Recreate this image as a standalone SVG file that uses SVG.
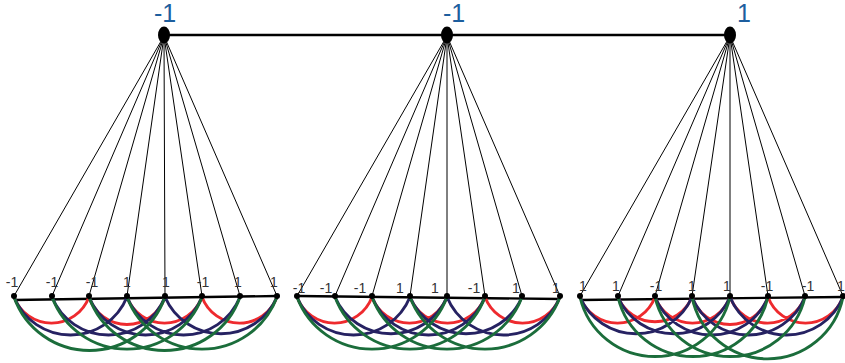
<svg xmlns="http://www.w3.org/2000/svg" width="845" height="363" viewBox="0 0 845 363">
<style>
.bg{fill:#fff}
.top{fill:#000}
.tl{font-family:"Liberation Sans",Arial,sans-serif;font-size:25px;fill:#1d5e9e}
.bl{font-family:"Liberation Sans",Arial,sans-serif;font-size:14px;fill:#333;text-anchor:middle}
.fan{stroke:#000;stroke-width:1;fill:none}
.base{stroke:#000;stroke-width:2.4;fill:none}
.bar{stroke:#000;stroke-width:2.4;fill:none}
.r{stroke:#ee2a2e;stroke-width:2.9;fill:none}
.n{stroke:#262262;stroke-width:2.9;fill:none}
.g{stroke:#1b6d3b;stroke-width:2.9;fill:none}
.dot{fill:#000}
</style>
<rect class="bg" x="0" y="0" width="845" height="363"/>
<g id="connectors">
<path class="bar" d="M164 35 L730 35"/>
<g id="fans">
<path class="fan" d="M164 36 L14 296 M164 36 L52 296 M164 36 L89 296 M164 36 L127 296 M164 36 L165 296 M164 36 L202 296 M164 36 L240 296 M164 36 L277 296"/>
<path class="fan" d="M447 36 L297 296 M447 36 L335 296 M447 36 L372 296 M447 36 L410 296 M447 36 L447 296 M447 36 L485 296 M447 36 L522 296 M447 36 L560 296"/>
<path class="fan" d="M730 36 L580 296 M730 36 L618 296 M730 36 L655 296 M730 36 L692 296 M730 36 L730 296 M730 36 L768 296 M730 36 L805 296 M730 36 L843 296"/>
</g>
<path class="base" d="M14 300 L277 296"/>
<path class="base" d="M297 296 L560 299"/>
<path class="base" d="M580 300 L843 297"/>
<g id="arcs1">
<path class="r" d="M14 297 A40 40 0 0 0 89 297 M89 297 A40 40 0 0 0 165 297 M127 297 A40 40 0 0 0 202 297 M202 297 A40 40 0 0 0 277 297"/>
<path class="n" d="M14 297 A61 61 0 0 0 127 297 M52 297 A61 61 0 0 0 165 297 M89 297 A61 61 0 0 0 202 297 M127 297 A61 61 0 0 0 240 297 M165 297 A61 61 0 0 0 277 297"/>
<path class="g" d="M14 297 A80 80 0 0 0 165 297 M52 297 A80 80 0 0 0 202 297 M89 297 A80 80 0 0 0 240 297 M127 297 A80 80 0 0 0 277 297"/>
</g>
<g id="arcs2">
<path class="r" d="M297 297 A40 40 0 0 0 372 297 M372 297 A40 40 0 0 0 447 297 M410 297 A40 40 0 0 0 485 297 M485 297 A40 40 0 0 0 560 297"/>
<path class="n" d="M297 297 A61 61 0 0 0 410 297 M335 297 A61 61 0 0 0 447 297 M372 297 A61 61 0 0 0 485 297 M410 297 A61 61 0 0 0 522 297 M447 297 A61 61 0 0 0 560 297"/>
<path class="g" d="M297 297 A80 80 0 0 0 447 297 M335 297 A80 80 0 0 0 485 297 M372 297 A80 80 0 0 0 522 297 M410 297 A80 80 0 0 0 560 297"/>
</g>
<g id="arcs3">
<path class="r" d="M580 297 A40 40 0 0 0 655 297 M618 297 A40 40 0 0 0 692 297 M655 297 A40 40 0 0 0 730 297 M692 297 A40 40 0 0 0 768 297 M730 297 A40 40 0 0 0 805 297 M768 297 A40 40 0 0 0 843 297"/>
<path class="n" d="M580 297 A61 61 0 0 0 692 297 M618 297 A61 61 0 0 0 730 297 M655 297 A61 61 0 0 0 768 297 M692 297 A61 61 0 0 0 805 297 M730 297 A61 61 0 0 0 843 297"/>
<path class="g" d="M580 297 A77 77 0 0 0 730 297 M618 297 A77 77 0 0 0 768 297 M655 297 A77 77 0 0 0 805 297 M692 297 A77 77 0 0 0 843 297"/>
</g>
</g>
<g id="top1"><ellipse class="top" cx="164" cy="35" rx="6" ry="8.5"/><text class="tl" x="154" y="22">-1</text></g>
<g id="top2"><ellipse class="top" cx="447" cy="35" rx="6" ry="8.5"/><text class="tl" x="443" y="22">-1</text></g>
<g id="top3"><ellipse class="top" cx="730" cy="35" rx="6" ry="8.5"/><text class="tl" x="737" y="22">1</text></g>
<g id="p1n0"><circle class="dot" cx="14" cy="296" r="3"/><text class="bl" x="12" y="287">-1</text></g>
<g id="p1n1"><circle class="dot" cx="52" cy="296" r="3"/><text class="bl" x="52" y="287">-1</text></g>
<g id="p1n2"><circle class="dot" cx="89" cy="296" r="3"/><text class="bl" x="92" y="287">-1</text></g>
<g id="p1n3"><circle class="dot" cx="127" cy="296" r="3"/><text class="bl" x="127" y="287">1</text></g>
<g id="p1n4"><circle class="dot" cx="165" cy="296" r="3"/><text class="bl" x="166" y="287">1</text></g>
<g id="p1n5"><circle class="dot" cx="202" cy="296" r="3"/><text class="bl" x="203" y="287">-1</text></g>
<g id="p1n6"><circle class="dot" cx="240" cy="296" r="3"/><text class="bl" x="238" y="287">1</text></g>
<g id="p1n7"><circle class="dot" cx="277" cy="296" r="3"/><text class="bl" x="274" y="287">1</text></g>
<g id="p2n0"><circle class="dot" cx="297" cy="296" r="3"/><text class="bl" x="299" y="293">-1</text></g>
<g id="p2n1"><circle class="dot" cx="335" cy="296" r="3"/><text class="bl" x="326" y="293">-1</text></g>
<g id="p2n2"><circle class="dot" cx="372" cy="296" r="3"/><text class="bl" x="360" y="293">-1</text></g>
<g id="p2n3"><circle class="dot" cx="410" cy="296" r="3"/><text class="bl" x="400" y="293">1</text></g>
<g id="p2n4"><circle class="dot" cx="447" cy="296" r="3"/><text class="bl" x="435" y="293">1</text></g>
<g id="p2n5"><circle class="dot" cx="485" cy="296" r="3"/><text class="bl" x="474" y="293">-1</text></g>
<g id="p2n6"><circle class="dot" cx="522" cy="296" r="3"/><text class="bl" x="516" y="293">1</text></g>
<g id="p2n7"><circle class="dot" cx="560" cy="296" r="3"/><text class="bl" x="556" y="293">1</text></g>
<g id="p3n0"><circle class="dot" cx="580" cy="296" r="3"/><text class="bl" x="583" y="291">1</text></g>
<g id="p3n1"><circle class="dot" cx="618" cy="296" r="3"/><text class="bl" x="616" y="291">1</text></g>
<g id="p3n2"><circle class="dot" cx="655" cy="296" r="3"/><text class="bl" x="656" y="291">-1</text></g>
<g id="p3n3"><circle class="dot" cx="692" cy="296" r="3"/><text class="bl" x="692" y="291">1</text></g>
<g id="p3n4"><circle class="dot" cx="730" cy="296" r="3"/><text class="bl" x="727" y="291">1</text></g>
<g id="p3n5"><circle class="dot" cx="768" cy="296" r="3"/><text class="bl" x="767" y="291">-1</text></g>
<g id="p3n6"><circle class="dot" cx="805" cy="296" r="3"/><text class="bl" x="808" y="291">-1</text></g>
<g id="p3n7"><circle class="dot" cx="843" cy="296" r="3"/><text class="bl" x="841" y="291">1</text></g>
</svg>
